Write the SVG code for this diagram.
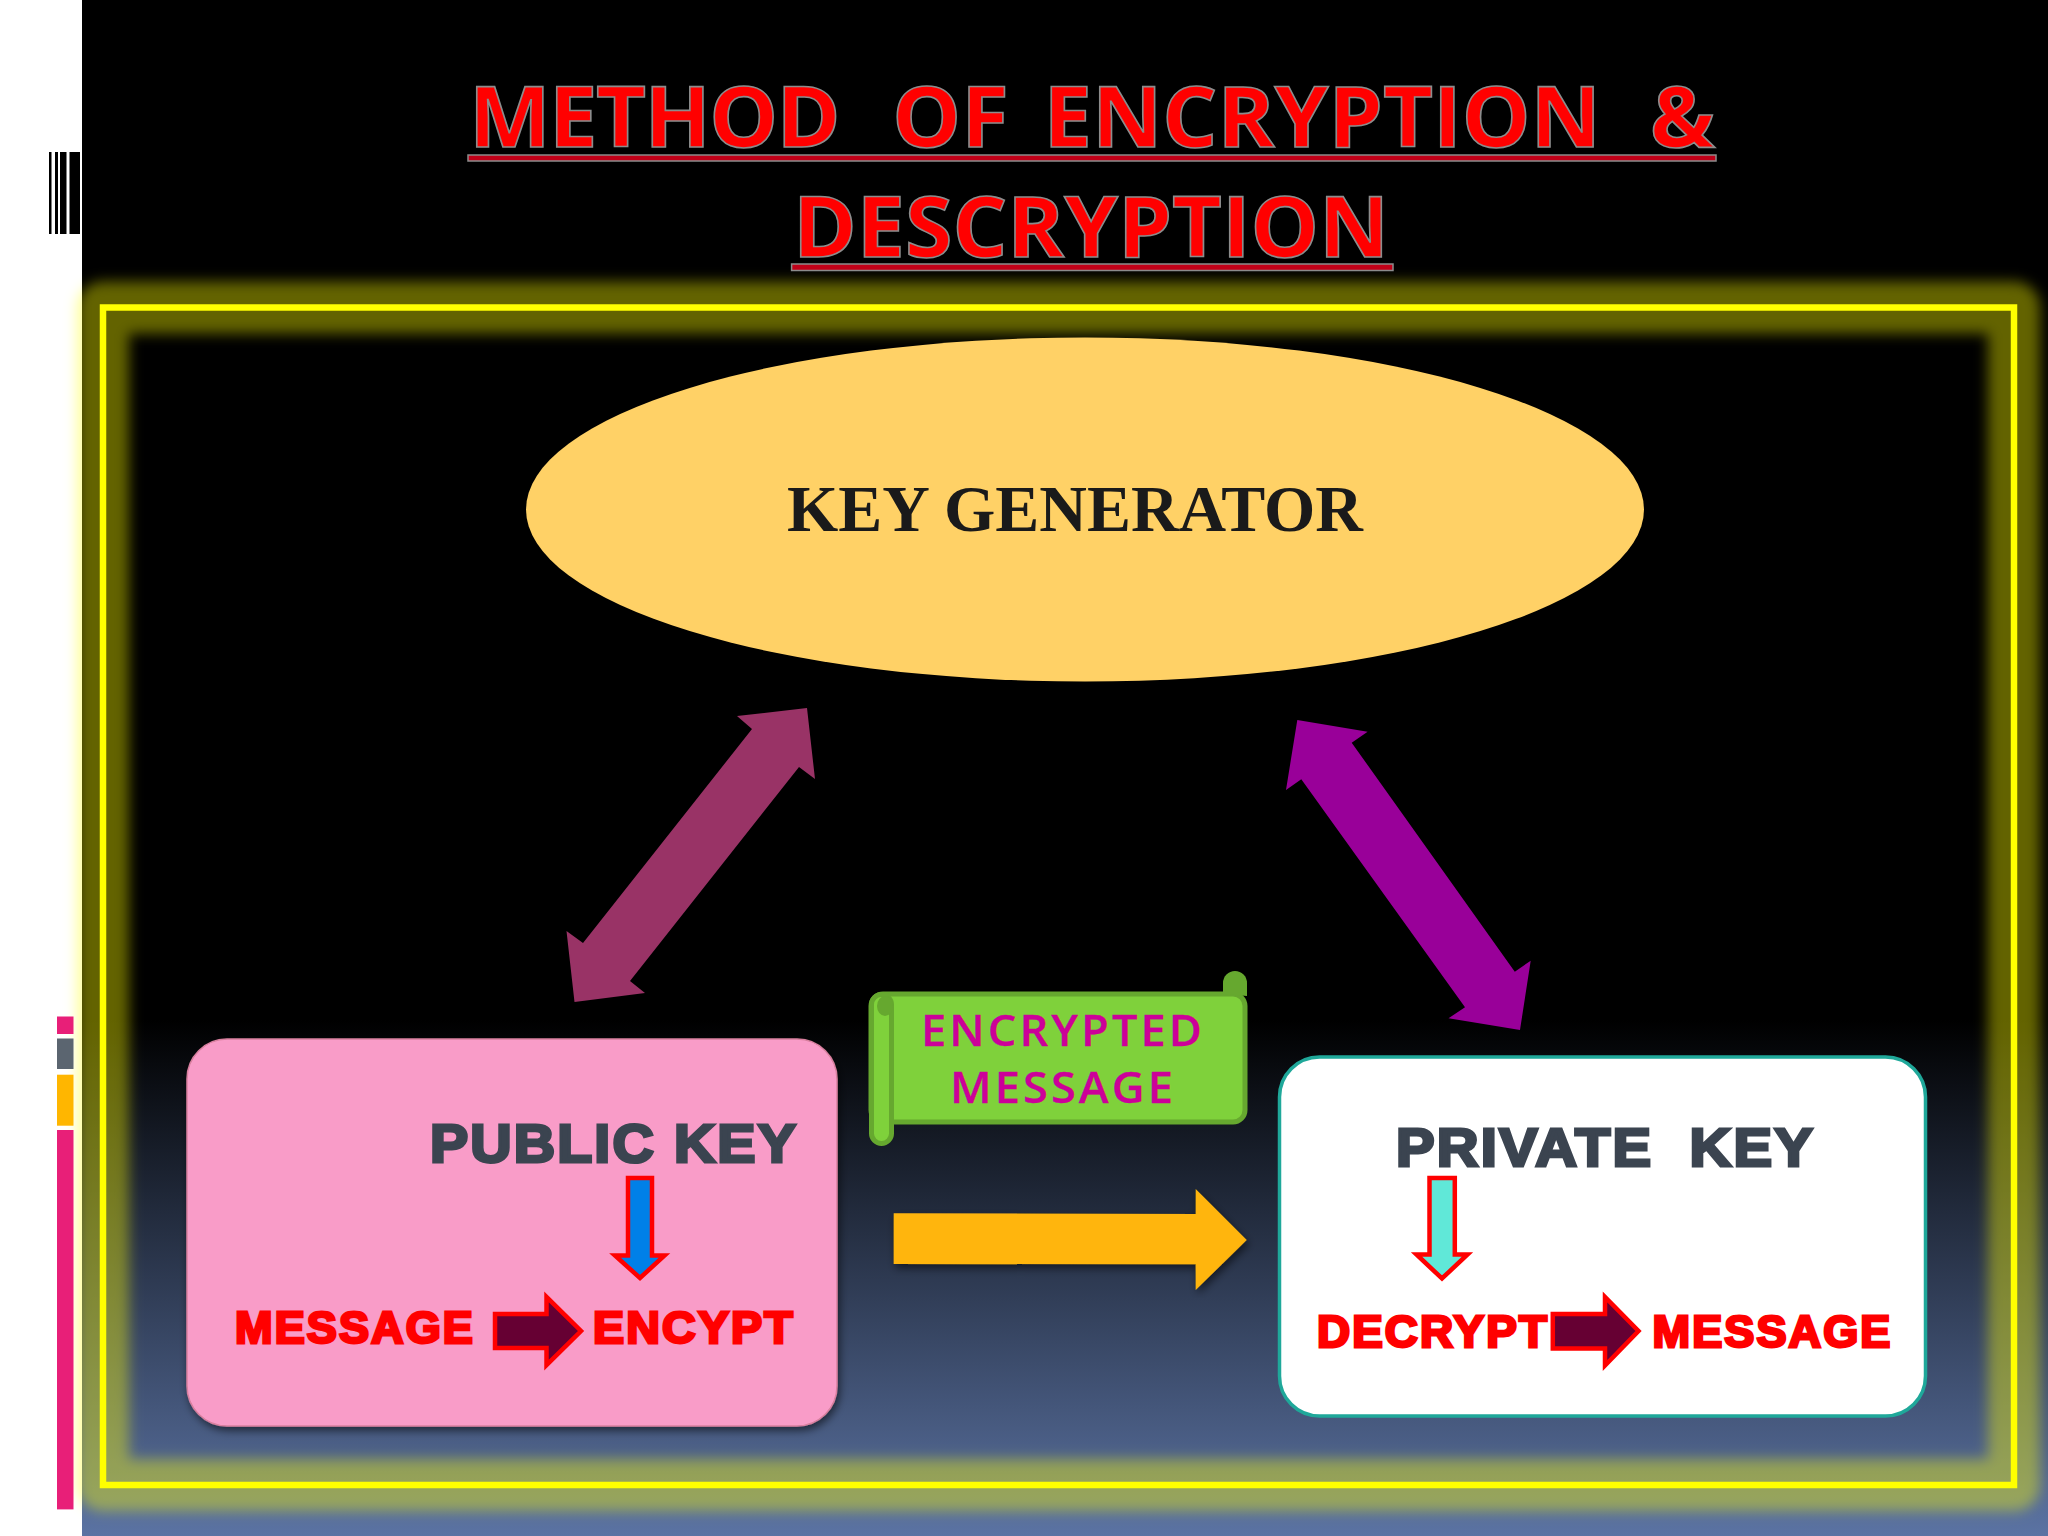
<svg xmlns="http://www.w3.org/2000/svg" width="2048" height="1536" viewBox="0 0 2048 1536">
<style>
.heavy{font-family:"Liberation Sans",Arial,sans-serif;font-weight:700;letter-spacing:2px}
.keyname{fill:#3b4450;stroke:#3b4450;stroke-width:3;font-size:54px}
.msg{fill:#f00;stroke:#f00;stroke-width:2.8;font-size:43.5px}
.title{font-family:"Open Sans","Noto Sans",sans-serif;font-weight:700;font-size:84px;fill:#f00;stroke:#8c8c8c;stroke-width:1.6}
.rule{fill:#c00018;stroke:#8c8c8c;stroke-width:1.5}
.scrolltext{font-family:"Open Sans","Noto Sans",sans-serif;font-weight:600;font-size:44px;fill:#cc0099;stroke:#cc0099;stroke-width:.3;letter-spacing:3px}
.red{stroke:#f00;stroke-width:4.5;stroke-linejoin:miter}
.dark{fill:#660033}
</style>
<defs>
<linearGradient id="bg" x1="0" y1="1020" x2="0" y2="1536" gradientUnits="userSpaceOnUse">
<stop offset="0" stop-color="#000"/><stop offset="1" stop-color="#5b73a3"/>
</linearGradient>
<filter id="glow" x="-5%" y="-8%" width="110%" height="116%"><feGaussianBlur stdDeviation="6.5"/></filter>
<filter id="soft" x="-5%" y="-5%" width="110%" height="112%"><feDropShadow dx="2" dy="4" stdDeviation="4" flood-color="#000" flood-opacity=".55"/></filter>
</defs>

<rect id="page" width="2048" height="1536" fill="#fff"/>
<rect id="slide" x="82" width="1966" height="1536" fill="#000"/>
<rect id="slide-gradient" x="82" y="1020" width="1966" height="516" fill="url(#bg)"/>
<g id="barcode" fill="#000">
<rect x="49" y="152" width="2.5" height="82"/><rect x="55" y="152" width="3" height="82"/><rect x="60" y="152" width="6.5" height="82"/><rect x="69.5" y="152" width="10.5" height="82"/>
</g>

<g id="frame">
<rect x="103" y="307.5" width="1911" height="1177.5" fill="none" stroke="#ff0" stroke-opacity=".39" stroke-width="52" stroke-linejoin="round" filter="url(#glow)"/>
<rect x="103" y="307.5" width="1911" height="1177.5" fill="none" stroke="#ff0" stroke-width="6.5"/>
</g>

<g id="sidebars">
<rect x="57" y="1016.5" width="16.5" height="17.5" fill="#e81f78"/>
<rect x="57" y="1038.5" width="16.5" height="30.5" fill="#5b6570"/>
<rect x="57" y="1074.7" width="16.5" height="51" fill="#ffb600"/>
<rect x="57" y="1130" width="16.5" height="379.4" fill="#e81f78"/>
</g>

<g id="title">
<text class="title" x="469" y="147.3" textLength="1246" lengthAdjust="spacingAndGlyphs" style="white-space:pre"><tspan letter-spacing="-1.5">METHOD</tspan>  <tspan dx="8">OF</tspan>  <tspan dx="-10">ENCRYPTION</tspan>  <tspan dx="4">&amp;</tspan></text>
<rect class="rule" x="468" y="155" width="1248" height="6"/>
<text class="title" x="793" y="256.7" textLength="596" lengthAdjust="spacingAndGlyphs">DESCRYPTION</text>
<rect class="rule" x="791.6" y="264" width="601.4" height="6.5"/>
</g>

<g id="key-generator">
<ellipse cx="1085" cy="509.5" rx="559" ry="172" fill="#ffd166"/>
<text x="787" y="531" textLength="576" lengthAdjust="spacingAndGlyphs" font-family="'Liberation Serif',serif" font-weight="700" font-size="65" fill="#1a1a1a">KEY GENERATOR</text>
</g>

<g id="public-key">
<rect x="187" y="1039" width="650" height="387" rx="40" fill="#f99cc8" stroke="#d9809f" stroke-width="1.5" filter="url(#soft)"/>
<text class="heavy keyname" x="430" y="1162" textLength="368" lengthAdjust="spacingAndGlyphs">PUBLIC KEY</text>
<text class="heavy msg" x="235" y="1343" textLength="240" lengthAdjust="spacingAndGlyphs">MESSAGE</text>
<text class="heavy msg" x="593" y="1343" textLength="202" lengthAdjust="spacingAndGlyphs">ENCYPT</text>
</g>

<g id="encrypted-message">
<rect x="871" y="994" width="374" height="128" rx="12" fill="#7fd13b" stroke="#66a82f" stroke-width="5"/>
<rect x="871.5" y="994.5" width="20" height="149" rx="10" fill="#7fd13b" stroke="#66a82f" stroke-width="5"/>
<path d="M1223 994V983a12 12 0 0 1 24 0V996z" fill="#66a82f"/>
<ellipse cx="885" cy="1006" rx="8" ry="10" fill="#66a82f"/>
<text class="scrolltext" x="921" y="1046" textLength="284" lengthAdjust="spacingAndGlyphs">ENCRYPTED</text>
<text class="scrolltext" x="950" y="1102.7" textLength="226" lengthAdjust="spacingAndGlyphs">MESSAGE</text>
</g>

<g id="private-key">
<rect x="1279.5" y="1057" width="646" height="359" rx="40" fill="#fff" stroke="#1fa89a" stroke-width="3.5"/>
<text class="heavy keyname" x="1396" y="1165.5" textLength="419" lengthAdjust="spacingAndGlyphs" style="white-space:pre">PRIVATE  KEY</text>
<text class="heavy msg" x="1317" y="1346.5" textLength="232" lengthAdjust="spacingAndGlyphs">DECRYPT</text>
<text class="heavy msg" x="1652.5" y="1346.5" textLength="240" lengthAdjust="spacingAndGlyphs">MESSAGE</text>
</g>

<g id="connectors">
<polygon fill="#993366" points="807,708 815,779 799,767 630,981 645,993 574.5,1002 566.5,931 583,943 752,729 737,716"/>
<polygon fill="#990099" points="1297.3,720 1367.6,731.7 1351.7,742.7 1514.8,971.7 1530.7,960.7 1520,1030 1448.5,1018.3 1465,1007.3 1301.3,779.3 1286,790"/>
<polygon fill="#ffb50e" filter="url(#soft)" points="893.7,1213.3 1195.7,1214 1195.7,1189 1246.7,1240 1195.7,1290 1195.7,1264.3 893.7,1264"/>
<polygon class="red" fill="#0080e8" points="628,1178 652,1178 652,1255.5 664.5,1255.5 640,1278 615,1255.5 628,1255.5"/>
<polygon class="red dark" points="495,1314 546.5,1314 546.5,1297 581,1331 546.5,1365 546.5,1348 495,1348"/>
<polygon class="red" fill="#60e8d8" points="1429.5,1178 1454.8,1178 1454.8,1254.5 1467.5,1254.5 1442,1278.5 1416.5,1254.5 1429.5,1254.5"/>
<polygon class="red dark" points="1552.8,1314 1605,1314 1605,1297 1638.5,1331 1605,1365.5 1605,1348.5 1552.8,1348.5"/>
</g>
</svg>
